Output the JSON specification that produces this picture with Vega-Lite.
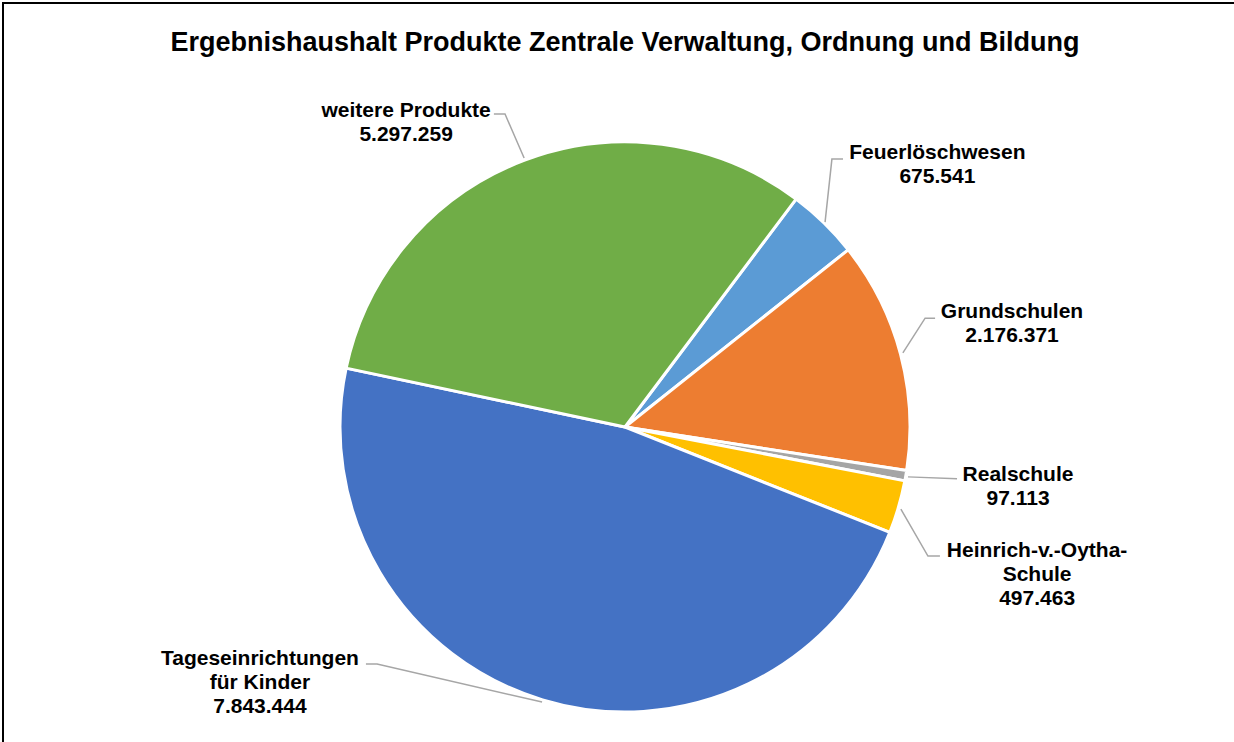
{
  "$schema": "https://vega.github.io/schema/vega-lite/v6.json",
  "width": 1244,
  "height": 848,
  "autosize": {"type": "none"},
  "padding": {"left": 3, "top": 3, "right": 0, "bottom": 0},
  "background": "white",
  "view": {"stroke": "#000000", "strokeWidth": 2, "fill": "white"},
  "title": {
    "text": "Ergebnishaushalt Produkte Zentrale Verwaltung, Ordnung und Bildung",
    "anchor": "middle",
    "frame": "group",
    "offset": -75,
    "baseline": "alphabetic",
    "font": "Liberation Sans",
    "fontSize": 27,
    "fontWeight": "bold",
    "color": "#000000"
  },
  "datasets": {
    "slices": [
      {"name": "Feuerlöschwesen", "value": 675541, "rank": 1},
      {"name": "Grundschulen", "value": 2176371, "rank": 2},
      {"name": "Realschule", "value": 97113, "rank": 3},
      {"name": "Heinrich-v.-Oytha-Schule", "value": 497463, "rank": 4},
      {"name": "Tageseinrichtungen für Kinder", "value": 7843444, "rank": 5},
      {"name": "weitere Produkte", "value": 5297259, "rank": 6}
    ],
    "labels": [
      {"name": "weitere Produkte", "text": "weitere Produkte\n5.297.259", "lx": -0.768, "ly": 1.088},
      {"name": "Feuerlöschwesen", "text": "Feuerlöschwesen\n675.541", "lx": 1.096, "ly": 0.939},
      {"name": "Grundschulen", "text": "Grundschulen\n2.176.371", "lx": 1.358, "ly": 0.381},
      {"name": "Realschule", "text": "Realschule\n97.113", "lx": 1.379, "ly": -0.188},
      {"name": "Heinrich-v.-Oytha-Schule", "text": "Heinrich-v.-Oytha-\nSchule\n497.463", "lx": 1.446, "ly": -0.455},
      {"name": "Tageseinrichtungen für Kinder", "text": "Tageseinrichtungen\nfür Kinder\n7.843.444", "lx": -1.281, "ly": -0.835}
    ],
    "leaders": [
      {"name": "weitere Produkte", "step": 1, "x": -0.460, "y": 1.098},
      {"name": "weitere Produkte", "step": 2, "x": -0.421, "y": 1.098},
      {"name": "weitere Produkte", "step": 3, "x": -0.354, "y": 0.944},
      {"name": "Feuerlöschwesen", "step": 1, "x": 0.765, "y": 0.940},
      {"name": "Feuerlöschwesen", "step": 2, "x": 0.726, "y": 0.940},
      {"name": "Feuerlöschwesen", "step": 3, "x": 0.702, "y": 0.719},
      {"name": "Grundschulen", "step": 1, "x": 1.088, "y": 0.382},
      {"name": "Grundschulen", "step": 2, "x": 1.053, "y": 0.382},
      {"name": "Grundschulen", "step": 3, "x": 0.975, "y": 0.260},
      {"name": "Realschule", "step": 1, "x": 1.165, "y": -0.182},
      {"name": "Realschule", "step": 2, "x": 0.993, "y": -0.175},
      {"name": "Heinrich-v.-Oytha-Schule", "step": 1, "x": 1.105, "y": -0.453},
      {"name": "Heinrich-v.-Oytha-Schule", "step": 2, "x": 1.063, "y": -0.453},
      {"name": "Heinrich-v.-Oytha-Schule", "step": 3, "x": 0.968, "y": -0.288},
      {"name": "Tageseinrichtungen für Kinder", "step": 1, "x": -0.909, "y": -0.832},
      {"name": "Tageseinrichtungen für Kinder", "step": 2, "x": -0.870, "y": -0.832},
      {"name": "Tageseinrichtungen für Kinder", "step": 3, "x": -0.291, "y": -0.965}
    ]
  },
  "layer": [
    {
      "data": {"name": "slices"},
      "mark": {"type": "arc", "radius": 285, "stroke": "#FFFFFF", "strokeWidth": 3},
      "encoding": {
        "theta": {"field": "value", "type": "quantitative", "stack": true, "scale": {"range": [0.644, 6.927]}},
        "color": {
          "field": "name",
          "type": "nominal",
          "scale": {
            "domain": ["Feuerlöschwesen", "Grundschulen", "Realschule", "Heinrich-v.-Oytha-Schule", "Tageseinrichtungen für Kinder", "weitere Produkte"],
            "range": ["#5B9BD5", "#ED7D31", "#A5A5A5", "#FFC000", "#4472C4", "#70AD47"]
          },
          "legend": null
        },
        "order": {"field": "rank", "type": "quantitative"}
      }
    },
    {
      "data": {"name": "leaders"},
      "mark": {"type": "line", "color": "#A6A6A6", "strokeWidth": 1.5},
      "encoding": {
        "x": {"field": "x", "type": "quantitative", "scale": {"domain": [-2.18246, 2.18246], "nice": false, "zero": false}, "axis": null},
        "y": {"field": "y", "type": "quantitative", "scale": {"domain": [-1.48772, 1.48772], "nice": false, "zero": false}, "axis": null},
        "detail": {"field": "name", "type": "nominal"},
        "order": {"field": "step", "type": "quantitative"}
      }
    },
    {
      "data": {"name": "labels"},
      "mark": {"type": "text", "font": "Liberation Sans", "fontSize": 21, "fontWeight": "bold", "align": "center", "baseline": "alphabetic", "lineBreak": "\n", "lineHeight": 24, "color": "#000000"},
      "encoding": {
        "x": {"field": "lx", "type": "quantitative", "scale": {"domain": [-2.18246, 2.18246], "nice": false, "zero": false}, "axis": null},
        "y": {"field": "ly", "type": "quantitative", "scale": {"domain": [-1.48772, 1.48772], "nice": false, "zero": false}, "axis": null},
        "text": {"field": "text", "type": "nominal"}
      }
    }
  ]
}
